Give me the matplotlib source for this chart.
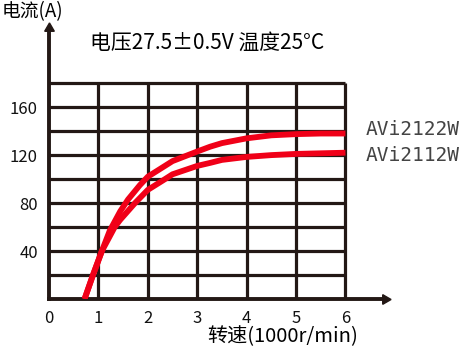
import numpy as np
import matplotlib
matplotlib.use('Agg')
import matplotlib.pyplot as plt

plt.rcParams['font.family'] = ['Noto Sans CJK SC', 'DejaVu Sans']

# speed (1000 r/min) and current (A)
speed_a = [0.72, 0.89, 1.07, 1.23, 1.44, 1.6, 1.84, 2.0, 2.5, 3.0, 3.26, 3.5, 4.0, 4.5, 5.0, 5.5, 6.0]
avi2122w = [0, 20, 40, 57, 73, 83, 95, 102, 115, 123, 127, 130, 134, 136.5, 137.5, 138, 138]
speed_b = [0.72, 0.89, 1.07, 1.33, 1.44, 1.74, 2.0, 2.31, 2.5, 3.0, 3.26, 3.5, 4.0, 4.5, 5.0, 5.5, 6.0]
avi2112w = [0, 20, 40, 60, 66, 80, 91, 99, 104, 111, 113.5, 116, 118.5, 120, 121, 121.5, 122]
names = ['AVi2122W', 'AVi2112W']

xticks = [0, 1, 2, 3, 4, 5, 6]
yticks = [40, 80, 120, 160]
grid_x = [1, 2, 3, 4, 5, 6]
grid_y = [20, 40, 60, 80, 100, 120, 140, 160, 180]

ink = '#231815'
red = '#f00018'

fig = plt.figure(figsize=(4.61, 3.46), dpi=100)
ax = fig.add_axes([49 / 461, 47 / 346, 336 / 461, 271 / 346])
ax.set_xlim(0, 6.8)
ax.set_ylim(0, 226)

# grid
ax.vlines(grid_x, 0, 180, color=ink, lw=2.3, zorder=1)
ax.hlines(grid_y, 0, 6, color=ink, lw=2.3, zorder=1)

# curves
for xs, ys in [(speed_a, avi2122w), (speed_b, avi2112w)]:
    ax.plot(xs, ys, color=red, lw=4.2, solid_capstyle='butt',
            solid_joinstyle='round', zorder=3)

# axes with arrows
for s in ['top', 'right']:
    ax.spines[s].set_visible(False)
for s in ['left', 'bottom']:
    ax.spines[s].set_linewidth(2.8)
    ax.spines[s].set_color(ink)
ax.plot(1, 0, marker=(3, 0, -90), ms=8, color=ink, transform=ax.transAxes, clip_on=False)
ax.plot(0, 1, marker=(3, 0, 0), ms=8, color=ink, transform=ax.transAxes, clip_on=False)

ax.set_xticks(xticks)
ax.set_xticklabels([str(v) for v in xticks])
ax.set_yticks(yticks)
ax.set_yticklabels([str(v) for v in yticks])
ax.tick_params(length=0, labelsize=12, pad=8, colors='#111111')

# series labels
ax.text(6.4, avi2122w[-1] + 3, names[0], family='DejaVu Sans Mono', fontsize=14,
        color='#444444', va='center', ha='left')
ax.text(6.4, avi2112w[-1] - 2, names[1], family='DejaVu Sans Mono', fontsize=14,
        color='#444444', va='center', ha='left')

fig.text(2 / 461, 1 - 12 / 346, '电流(A)', fontsize=13.5, va='center', ha='left')
fig.text(90 / 461, 1 - 43 / 346, '电压27.5±0.5V 温度25°C', fontsize=15, va='center', ha='left')
fig.text(207 / 461, 1 - 337 / 346, '转速(1000r/min)', fontsize=14.5, va='center', ha='left')

fig.savefig('out.png', dpi=100)
